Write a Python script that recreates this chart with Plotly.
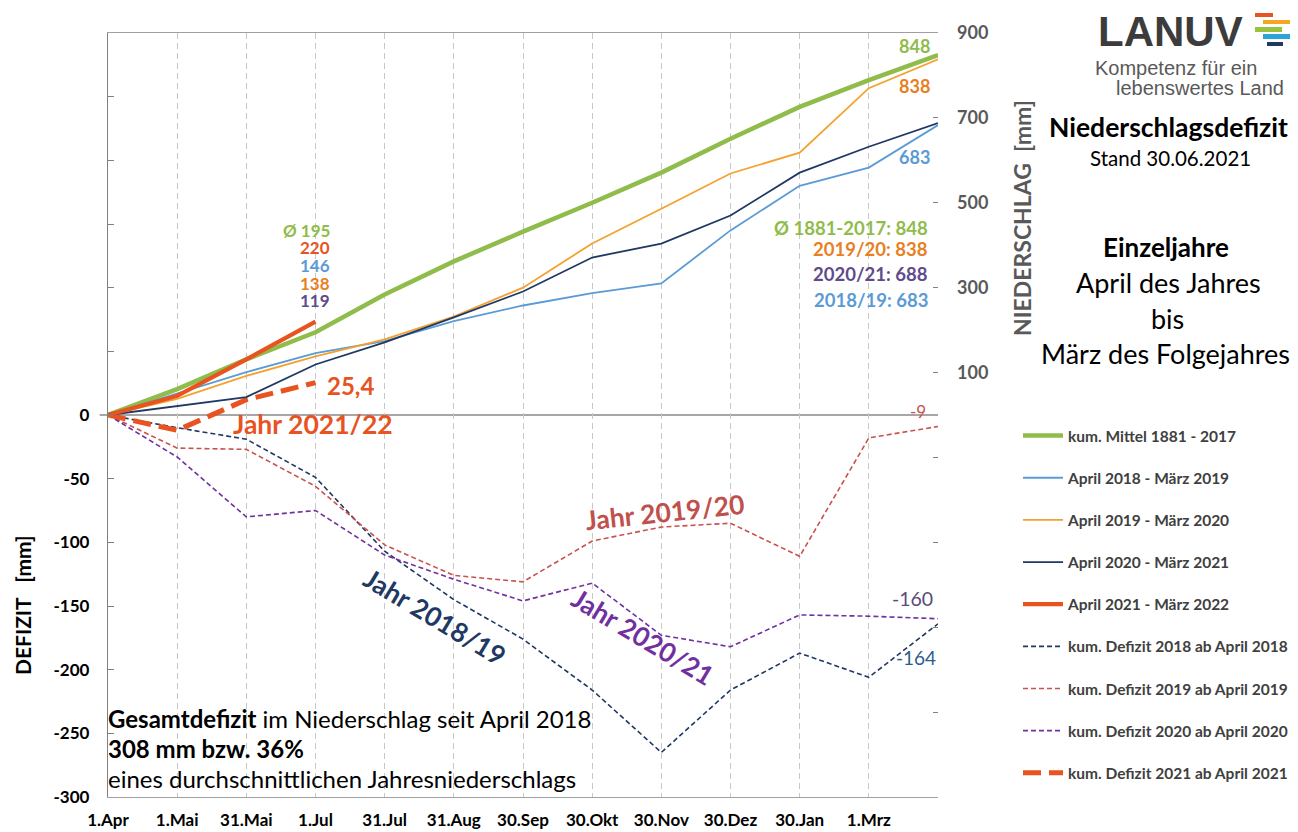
import plotly.graph_objects as go

# ---------------- data ----------------
tick_labels = ["1.Apr", "1.Mai", "31.Mai", "1.Jul", "31.Jul", "31.Aug", "30.Sep",
               "30.Okt", "30.Nov", "30.Dez", "30.Jan", "1.Mrz"]
x_pos = list(range(13))  # 12 labelled dates + end of March

mean_1881_2017 = [0, 61, 131, 195, 284, 362, 432, 500, 571, 651, 726, 789, 848]
prec_2018 = [0, 50, 101, 146, 174, 221, 258, 287, 310, 435, 540, 583, 683]
prec_2019 = [0, 38, 92, 138, 178, 232, 300, 404, 486, 569, 618, 770, 838]
prec_2020 = [0, 21, 42, 119, 171, 230, 291, 371, 404, 470, 571, 632, 688]
prec_2021 = [0, 45, 131, 220]

def_2018 = [0, -10, -19, -49, -107, -145, -176, -216, -265, -216, -187, -206, -164]
def_2019 = [0, -26, -27, -56, -102, -126, -131, -99, -88, -85, -111, -18, -9]
def_2020 = [0, -33, -80, -75, -110, -129, -146, -132, -173, -182, -157, -158, -160]
def_2021 = [0, -12, 12, 25.4]

left_ticks = [-300, -250, -200, -150, -100, -50, 0, 50, 100, 150, 200, 250, 300]
right_ticks = [-900, -700, -500, -300, -100, 100, 300, 500, 700, 900]

# ---------------- styles ----------------
FONT = "Lato"
GREEN = "#8fbc4b"
BLUE = "#5b9bd5"
ORANGE = "#f4a12e"
ORANGE_T = "#e8801f"
NAVY = "#1f3864"
RED = "#e8531f"
BRICK = "#c8524e"
PURPLE = "#7030a0"
PURPLE_T = "#5f4b8b"

# plot area in reference pixel coordinates; page has an 8px body margin
OFF = 8
L, R, T, B = 108, 938, 33, 797
W, H = 1298 - OFF, 832 - OFF

def px(xp):
    return (xp - L) / (R - L)

def py(yp):
    return (B - yp) / (B - T)

fig = go.Figure()

def add(xv, yv, name, color, width, dash="solid", axis="y"):
    fig.add_trace(go.Scatter(
        x=xv, y=yv, name=name, mode="lines", yaxis=axis, legendgroup=name,
        line=dict(color=color, width=width, dash=dash), hoverinfo="skip"))

add(x_pos, mean_1881_2017, "kum. Mittel 1881 - 2017", GREEN, 4.5, axis="y2")
add(x_pos, prec_2018, "April 2018 - März 2019", BLUE, 1.8, axis="y2")
add(x_pos, prec_2019, "April 2019 - März 2020", ORANGE, 1.8, axis="y2")
add(x_pos, prec_2020, "April 2020 - März 2021", NAVY, 1.8, axis="y2")
add(x_pos[:len(prec_2021)], prec_2021, "April 2021 - März 2022", RED, 4.2, axis="y2")
add(x_pos, def_2018, "kum. Defizit 2018 ab April 2018", NAVY, 1.6, dash="5px,3px")
add(x_pos, def_2019, "kum. Defizit 2019 ab April 2019", BRICK, 1.6, dash="5px,3px")
add(x_pos, def_2020, "kum. Defizit 2020 ab April 2020", PURPLE, 1.6, dash="5px,3px")
add(x_pos[:len(def_2021)], def_2021, "kum. Defizit 2021 ab April 2021", RED, 5, dash="18px,8px")

ann = []

def text(t, xp, yp, color, size, xanchor="center", yanchor="middle", angle=0,
         bold=True, family=FONT):
    ann.append(dict(text=f"<b>{t}</b>" if bold else t, xref="paper", yref="paper",
                    x=px(xp), y=py(yp), xanchor=xanchor, yanchor=yanchor,
                    showarrow=False, textangle=angle,
                    font=dict(family=family, size=size, color=color)))

# values at 1.Jul
text(f"Ø {mean_1881_2017[3]}", 332, 230, GREEN, 17, xanchor="right")
text(f"{prec_2021[-1]}", 332, 247, RED, 17, xanchor="right")
text(f"{prec_2018[3]}", 332, 265, BLUE, 17, xanchor="right")
text(f"{prec_2019[3]}", 332, 283, ORANGE_T, 17, xanchor="right")
text(f"{prec_2020[3]}", 332, 300, PURPLE_T, 17, xanchor="right")
text(f"{def_2021[-1]}".replace(".", ","), 325, 385, RED, 24, xanchor="left")
text("Jahr 2021/22", 231, 424, RED, 26.5, xanchor="left")

# end values
text(f"{mean_1881_2017[-1]}", 932, 46, GREEN, 18, xanchor="right")
text(f"{prec_2019[-1]}", 932, 86, ORANGE_T, 18, xanchor="right")
text(f"{prec_2018[-1]}", 932, 157, BLUE, 18, xanchor="right")
text(f"Ø 1881-2017: {mean_1881_2017[-1]}", 930, 228, GREEN, 18.5, xanchor="right")
text(f"2019/20: {prec_2019[-1]}", 930, 249, ORANGE_T, 18.5, xanchor="right")
text(f"2020/21: {prec_2020[-1]}", 930, 274, PURPLE_T, 18.5, xanchor="right")
text(f"2018/19: {prec_2018[-1]}", 930, 300, BLUE, 18.5, xanchor="right")
text(f"{def_2019[-1]}", 928, 411, BRICK, 17, xanchor="right", bold=False)
text(f"{def_2020[-1]}", 935, 598, "#5a4a78", 19.5, xanchor="right", bold=False)
text(f"{def_2018[-1]}", 938, 657, "#2e5c8a", 19, xanchor="right", bold=False)

# year labels
text("Jahr 2019/20", 665, 512, "#c0504d", 26.5, angle=-6)
text("Jahr 2018/19", 435, 617, NAVY, 26.5, angle=31)
text("Jahr 2020/21", 643, 637, PURPLE, 26.5, angle=31)

# total deficit text
text("<b>Gesamtdefizit</b> im Niederschlag seit April 2018", 106, 718, "#000000", 24,
     xanchor="left", bold=False)
text("308 mm bzw. 36%", 106, 748, "#000000", 24, xanchor="left")
text("eines durchschnittlichen Jahresniederschlags", 106, 778, "#000000", 24,
     xanchor="left", bold=False)

# axis titles
text("NIEDERSCHLAG  [mm]", 1022, 218, "#595959", 23, angle=-90)
text("DEFIZIT   [mm]", 22, 605, "#000000", 21, angle=-90)

# logo and side text
text("LANUV", 1170, 32, "#3c3c3c", 42, family="Liberation Sans")
text("Kompetenz für ein", 1176, 68, "#595959", 20, bold=False, family="Liberation Sans")
text("lebenswertes Land", 1200, 88, "#595959", 20, bold=False, family="Liberation Sans")
text("Niederschlagsdefizit", 1168, 127, "#000000", 26.5)
text("Stand 30.06.2021", 1170, 158, "#000000", 20.5, bold=False)
text("Einzeljahre", 1166, 247, "#000000", 26)
text("April des Jahres", 1168, 282, "#000000", 27, bold=False)
text("bis", 1167, 318, "#000000", 27, bold=False)
text("März des Folgejahres", 1165, 353, "#000000", 27, bold=False)

shapes = [
    dict(type="line", xref="paper", yref="y", x0=-0.01, x1=1, y0=0, y1=0,
         line=dict(color="#a6a6a6", width=2), layer="below"),
]
logo_bars = [
    (1255, 1273, 13, 17, "#e8531f"),
    (1263, 1290, 20, 24, "#f5a623"),
    (1255, 1282, 27, 32, "#9bc23c"),
    (1263, 1290, 34, 39, "#2aa4d9"),
    (1267, 1283, 42, 46, "#1f3864"),
]
for x0, x1, y0, y1, c in logo_bars:
    shapes.append(dict(type="rect", xref="paper", yref="paper", x0=px(x0), x1=px(x1),
                       y0=py(y1), y1=py(y0), fillcolor=c, line=dict(width=0)))

fig.update_layout(
    width=W, height=H,
    margin=dict(l=L - OFF, r=W - (R - OFF), t=T - OFF, b=H - (B - OFF), autoexpand=False),
    paper_bgcolor="white", plot_bgcolor="white",
    font=dict(family=FONT, color="#000000"),
    showlegend=True,
    legend=dict(x=px(1018), y=py(419), xanchor="left", yanchor="top",
                font=dict(family=FONT, size=15.5, color="#404040", weight="bold"),
                tracegroupgap=19, bgcolor="rgba(0,0,0,0)", itemwidth=40),
    xaxis=dict(range=[0, 12], tickvals=x_pos[:12], ticktext=tick_labels,
               showgrid=True, gridcolor="#c8c8c8", griddash="6px,4px", gridwidth=1,
               showline=True, linecolor="#a0a0a0", linewidth=1.3, mirror=True,
               ticks="", zeroline=False, ticklabelstandoff=7,
               tickfont=dict(family=FONT, size=17, color="#000000", weight="bold")),
    yaxis=dict(range=[-300, 300], tickvals=left_ticks,
               ticktext=[str(v) if v <= 0 else "" for v in left_ticks],
               showgrid=False, zeroline=False, showline=True, linecolor="#808080",
               linewidth=1.3, ticks="inside", ticklen=6, tickcolor="#808080",
               ticklabelstandoff=14,
               tickfont=dict(family=FONT, size=17, color="#000000", weight="bold")),
    yaxis2=dict(range=[-900, 900], tickvals=right_ticks,
                ticktext=[str(v) if v > 0 else "" for v in right_ticks],
                overlaying="y", side="right", showgrid=False, zeroline=False,
                showline=False, ticks="inside", ticklen=5, tickcolor="#808080",
                ticklabelstandoff=18,
                tickfont=dict(family=FONT, size=18, color="#595959", weight="bold")),
    annotations=ann,
    shapes=shapes,
)

fig.write_html("out.html")
